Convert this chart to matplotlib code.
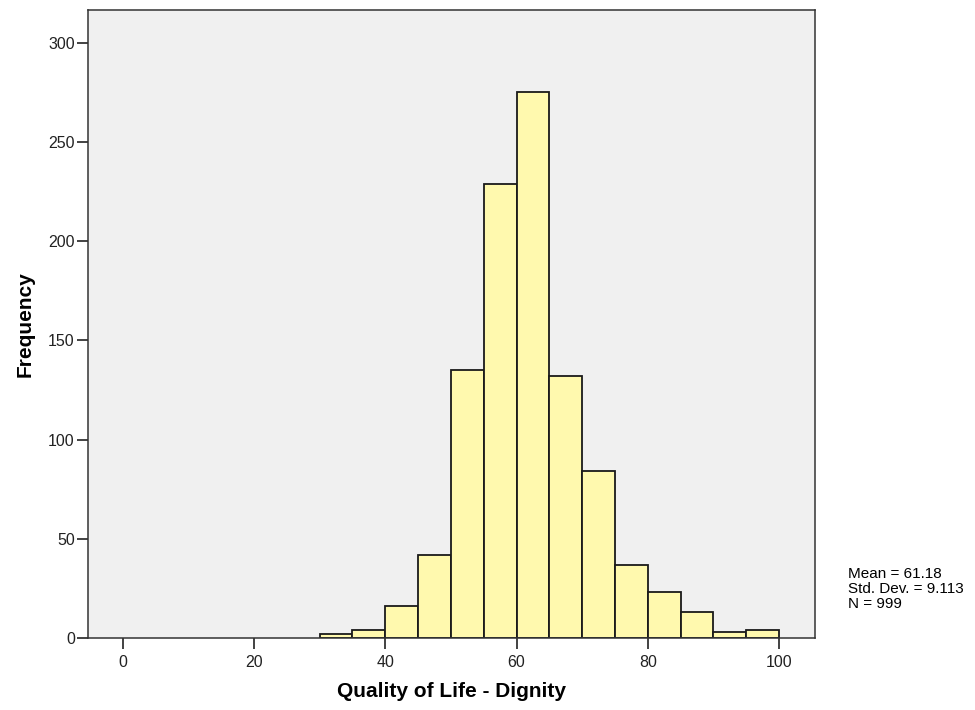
import matplotlib
matplotlib.use("Agg")
import matplotlib.pyplot as plt

plt.rcParams['font.family'] = ['Liberation Sans', 'DejaVu Sans']

bin_edges = [30, 35, 40, 45, 50, 55, 60, 65, 70, 75, 80, 85, 90, 95, 100]
counts = [2, 4, 16, 42, 135, 229, 275, 132, 84, 37, 23, 13, 3, 4]
x_ticks = [0, 20, 40, 60, 80, 100]
y_ticks = [0, 50, 100, 150, 200, 250, 300]
stats = ["Mean = 61.18", "Std. Dev. = 9.113", "N = 999"]

fig = plt.figure(figsize=(9.75, 7.1), dpi=100)
ax = fig.add_axes([0.0903, 0.1014, 0.7457, 0.8846])
ax.set_facecolor('#f0f0f0')

lefts = bin_edges[:-1]
widths = [b - a for a, b in zip(bin_edges[:-1], bin_edges[1:])]
ax.bar(lefts, counts, width=widths, align='edge', color='#fff9ae',
       edgecolor='#1a1a1a', linewidth=1.3)

ax.set_xlim(-5.3, 105.5)
ax.set_ylim(0, 316.5)
ax.set_xticks(x_ticks)
ax.set_yticks(y_ticks)
ax.tick_params(direction='out', length=8, width=1.2, labelsize=11.5, colors='#222222')
ax.tick_params(axis='y', pad=1.5)
ax.tick_params(axis='x', pad=4)
for s in ax.spines.values():
    s.set_color('#333333')
    s.set_linewidth(1.1)

ax.set_xlabel('Quality of Life - Dignity', fontsize=15, fontweight='bold', labelpad=9)
ax.set_ylabel('Frequency', fontsize=15, fontweight='bold', labelpad=10)

fig.text(848 / 975, 1 - 567 / 710, "\n".join(stats), fontsize=11,
         va='top', ha='left', linespacing=1.1)

fig.savefig('out.png', dpi=100)
